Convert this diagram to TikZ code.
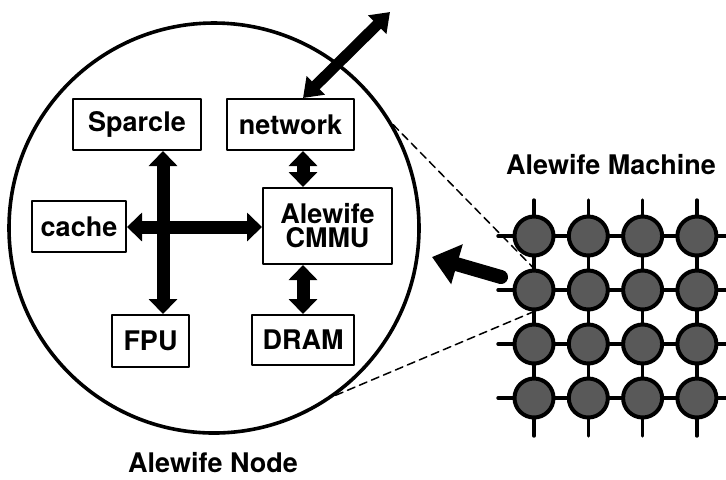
\documentclass[tikz,border=0pt]{standalone}
\usepackage{fontspec}
\setmainfont{TeX Gyre Heros}
\usepackage{tikz}
\usetikzlibrary{arrows.meta}
\usetikzlibrary{positioning}
\tikzset{
  unitbox/.style={draw,line width=1pt,minimum height=25.5pt,inner sep=0pt,
    font=\bfseries\fontsize{13.5}{12}\selectfont,align=center},
  bus/.style={line width=6.5pt,>={Triangle[width=14pt,length=7.5pt]},<->},
  meshnode/.style={circle,draw,line width=2pt,fill=black!65,minimum size=19.5pt,inner sep=0pt},
  caption/.style={font=\bfseries\fontsize{13.5}{12}\selectfont}
}

\begin{document}
\begin{tikzpicture}[line cap=round,line join=round,x=0.5pt,y=-0.5pt]
\useasboundingbox (0,0) rectangle (726,479);
% the node
\node[circle,draw,line width=1.8pt,minimum size=205pt,inner sep=0pt] (alewifenode) at (214,228) {};
\node[unitbox,minimum width=64pt] (sparcle) at (137,124.5) {Sparcle};
\node[unitbox,minimum width=63.5pt] (network) at (290.5,124.5) {network};
\node[unitbox,minimum width=47pt] (cache) at (79,226.5) {cache};
\node[unitbox,minimum width=64.5pt,minimum height=38pt] (cmmu) at (327.5,226) {Alewife\\CMMU};
\node[unitbox,minimum width=38.5pt,minimum height=26pt] (fpu) at (150.5,341) {FPU};
\node[unitbox,minimum width=51pt,minimum height=25pt] (dram) at (303,340) {DRAM};
\coordinate (cross) at (163,227);
\coordinate (outside) at (390,12);
\draw[bus] (sparcle.south -| cross) -- (fpu.north -| cross);
\draw[bus] (cache.east |- cross) -- (cmmu.west |- cross);
\draw[bus] (network.south -| dram.north) -- (cmmu.north -| dram.north);
\draw[bus] (cmmu.south -| dram.north) -- (dram.north);
\draw[bus,line width=5.5pt,>={Triangle[width=12.5pt,length=9pt]}] ([xshift=6.25pt]network.north) -- (outside);
\node[caption] (nodelabel) at (213,463) {Alewife Node};
% the machine
\node[caption] (machinelabel) at (611,165) {Alewife Machine};
\foreach \r in {1,2,3,4}
\draw[line width=1.7pt] (498,{236+54*(\r-1)}) -- (726,{236+54*(\r-1)});
\foreach \c in {1,2,3,4}
\draw[line width=1.7pt] ({534+54.3*(\c-1)},200) -- ({534+54.3*(\c-1)},436);
\foreach \r in {1,2,3,4}
\foreach \c in {1,2,3,4}
\node[meshnode] (m-\r-\c) at ({534+54.3*(\c-1)},{236+54*(\r-1)}) {};
\draw[line width=0.75pt,dash pattern=on 4pt off 2.5pt] (alewifenode.30.6) -- (m-2-1.north);
\draw[line width=0.75pt,dash pattern=on 4pt off 2.5pt] (alewifenode.-54.8) -- (m-2-1.south);
\coordinate (zoomtail) at (501,277);
\coordinate (zoomtip) at (432,257);
\draw[line width=7pt,-{Triangle[width=20pt,length=13pt]}] (zoomtail) -- (zoomtip);
\end{tikzpicture}
\end{document}
